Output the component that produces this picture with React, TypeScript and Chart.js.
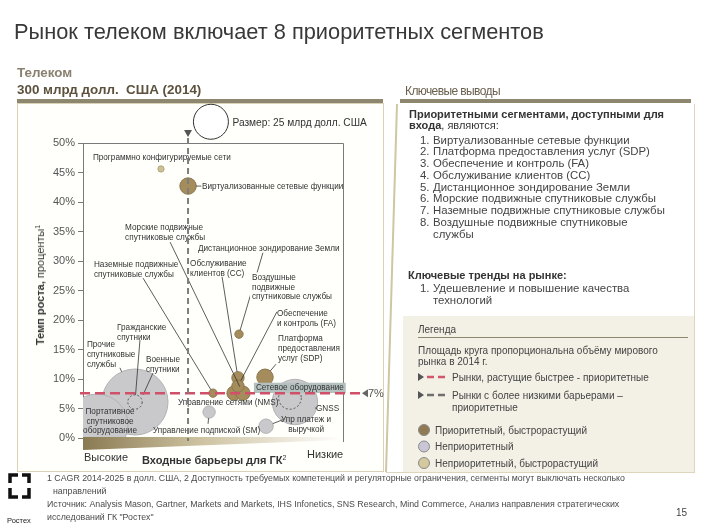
import React, { useEffect, useRef } from "react";
import { Chart, registerables } from "chart.js";
Chart.register(...registerables);

const FONT = '"Liberation Sans", Arial, sans-serif';

// ---------------- data ----------------
const segmentNames = [
  "Размер: 25 млрд долл. США",
  "Программно конфигурируемые сети",
  "Виртуализованные сетевые функции",
  "Дистанционное зондирование Земли",
  "Обслуживание клиентов (CC)",
  "Обеспечение и контроль (FA)",
  "Воздушные подвижные спутниковые службы",
  "Морские подвижные спутниковые службы",
  "Наземные подвижные спутниковые службы",
  "Платформа предоставления услуг (SDP)",
  "Портативное спутниковое оборудование",
  "Прочие спутниковые службы",
  "GNSS",
  "Управление подпиской (SM)",
  "Упр платеж и выручкой",
  "Гражданские спутники",
  "Управление сетями (NMS)",
];
// 0 = high entry barriers, 100 = low entry barriers
const entryBarrier = [49.2, 30, 40.4, 60, 59.6, 59.6, 58.1, 61.5, 50, 70, 5.4, 20, 81.5, 48.5, 70.4, 20, 79.6];
// CAGR 2014-2025, %
const growthRate = [53.6, 45.6, 42.7, 17.6, 10.2, 8.8, 7.6, 7.6, 7.6, 10.3, 2.2, 6.1, 6.1, 4.4, 2, 6.1, 6.8];
// market size 2014, bn USD
const marketSize = [25, 0.8, 5.5, 1.4, 3.1, 3.1, 4.2, 4.2, 1.4, 5.5, 78, 89, 42, 3.1, 4.2, 4.2, 10.5];
const segmentType = ["scale", "fastNon", "priority", "priority", "priority", "priority", "priority", "priority", "priority", "priority", "non", "non", "non", "non", "non", "sub", "sub"];
const yTickValues = [0, 5, 10, 15, 20, 25, 30, 35, 40, 45, 50];
const growthThreshold = 7.6;
const growthThresholdLabel = "7%";
const barrierThreshold = 40.4;

// ---------------- texts ----------------
const title = "Рынок телеком включает 8 приоритетных сегментов";
const keyFindings = [
  "Виртуализованные сетевые функции",
  "Платформа предоставления услуг (SDP)",
  "Обеспечение и контроль (FA)",
  "Обслуживание клиентов (CC)",
  "Дистанционное зондирование Земли",
  "Морские подвижные спутниковые службы",
  "Наземные подвижные спутниковые службы",
  "Воздушные подвижные спутниковые",
];
const legendItems = ["Приоритетный, быстрорастущий", "Неприоритетный", "Неприоритетный, быстрорастущий"];
const legendColors = ["#8f7a52", "#cbc6d6", "#d3c99c"];
const footnotes = [
  "1 CAGR 2014-2025 в долл. США, 2 Доступность требуемых компетенций и регуляторные ограничения, сегменты могут выключать несколько",
  "направлений",
  "Источник: Analysis Mason, Gartner, Markets and Markets, IHS Infonetics, SNS Research, Mind Commerce, Анализ направления стратегических",
  "исследований ГК \"Ростех\"",
];

// annotation labels (positions in data units: barrier, growth)
const notes: { lines: string[]; x: number; y: number; center?: boolean; bg?: string }[] = [
  { lines: ["Программно конфигурируемые сети"], x: 3.8, y: 47.1 },
  { lines: ["Виртуализованные сетевые функции"], x: 45.8, y: 42.2 },
  { lines: ["Морские подвижные", "спутниковые службы"], x: 16.2, y: 35.3 },
  { lines: ["Дистанционное зондирование Земли"], x: 44.2, y: 31.7 },
  { lines: ["Наземные подвижные", "спутниковые службы"], x: 4.2, y: 29.0 },
  { lines: ["Обслуживание", "клиентов (CC)"], x: 41.2, y: 29.2 },
  { lines: ["Воздушные", "подвижные", "спутниковые службы"], x: 65, y: 26.8, bg: "#fffffc" },
  { lines: ["Обеспечение", "и контроль (FA)"], x: 74.6, y: 20.7 },
  { lines: ["Платформа", "предоставления", "услуг (SDP)"], x: 75, y: 16.4 },
  { lines: ["Гражданские", "спутники"], x: 13.1, y: 18.3 },
  { lines: ["Прочие", "спутниковые", "службы"], x: 1.5, y: 15.4 },
  { lines: ["Военные", "спутники"], x: 24.2, y: 12.9 },
  { lines: ["Портативное", "спутниковое", "оборудование"], x: 10.4, y: 4.1, center: true },
  { lines: ["Сетевое оборудование"], x: 66.5, y: 8.1, bg: "#b5c1bf" },
  { lines: ["Управление сетями (NMS)"], x: 36.5, y: 5.6 },
  { lines: ["GNSS"], x: 89.6, y: 4.6 },
  { lines: ["Управление подпиской (SM)"], x: 26.9, y: 0.8 },
  { lines: ["Упр платеж и", "выручкой"], x: 85.8, y: 2.7, center: true },
];
// leader lines: from (data units) to segment index or a data point
const leaders: { from: [number, number]; to: number | [number, number] }[] = [
  { from: [45.5, 42.7], to: 2 },
  { from: [33.5, 33.2], to: 7 },
  { from: [23.1, 27.1], to: 8 },
  { from: [53.5, 27.3], to: 4 },
  { from: [69.2, 31.4], to: 3 },
  { from: [74.6, 21.4], to: 5 },
  { from: [74.2, 12.5], to: 9 },
  { from: [14.2, 11.9], to: 11 },
  { from: [21.9, 16.6], to: 15 },
  { from: [26.9, 11.0], to: [23.1, 7.3] },
  { from: [89.2, 5.1], to: 12 },
  { from: [48.1, 2.4], to: 13 },
  { from: [76.9, 3.1], to: 14 },
];

const radiusOf = (size: number) => 17.5 * Math.sqrt(size / 25);

const typeStyle: Record<string, { bg: string; border: string; order: number; clip: any }> = {
  non: { bg: "#c9c9cb", border: "#b3b3b7", order: 5, clip: 0 },
  fastNon: { bg: "#cdc196", border: "#b2a67a", order: 4, clip: false },
  priority: { bg: "#a48c5d", border: "#8c7649", order: 3, clip: false },
  scale: { bg: "#ffffff", border: "#333333", order: 2, clip: false },
  sub: { bg: "rgba(0,0,0,0)", border: "rgba(0,0,0,0)", order: 1, clip: 0 },
};
const typeOrder = ["non", "fastNon", "priority", "scale", "sub"];

function buildDatasets() {
  const lookup: Record<number, [number, number]> = {};
  const datasets = typeOrder.map((t, di) => {
    const idx = segmentType.map((s, i) => (s === t ? i : -1)).filter((i) => i >= 0);
    idx.sort((a, b) => marketSize[b] - marketSize[a]);
    idx.forEach((seg, k) => (lookup[seg] = [di, k]));
    const st = typeStyle[t];
    return {
      label: t,
      data: idx.map((i) => ({ x: entryBarrier[i], y: growthRate[i], r: radiusOf(marketSize[i]) })),
      backgroundColor: st.bg,
      borderColor: st.border,
      borderWidth: 1,
      order: st.order,
      clip: st.clip,
    };
  });
  return { datasets, lookup };
}

function text(c: CanvasRenderingContext2D, s: string, x: number, y: number, size: number, opts: any = {}) {
  c.font = `${opts.bold ? "bold " : ""}${size}px ${FONT}`;
  c.fillStyle = opts.color || "#333";
  c.textAlign = opts.align || "left";
  c.textBaseline = "alphabetic";
  c.fillText(s, x, y);
}

export default function App() {
  const ref = useRef<HTMLCanvasElement>(null);
  useEffect(() => {
    document.body.style.margin = "0";
    const { datasets, lookup } = buildDatasets();
    const el = (chart: any, seg: number) => {
      const [di, k] = lookup[seg];
      return chart.getDatasetMeta(di).data[k];
    };
    const deco = {
      id: "deco",
      beforeDraw(chart: any) {
        const c: CanvasRenderingContext2D = chart.ctx;
        c.save();
        c.fillStyle = "#ffffff";
        c.fillRect(0, 0, 706, 529);
        // left panel
        c.fillStyle = "#fffffc";
        c.fillRect(17, 103, 366, 368);
        c.strokeStyle = "#d9d2b6";
        c.lineWidth = 1;
        c.strokeRect(17.5, 103.5, 366, 368);
        // header bars
        c.fillStyle = "#8e8770";
        c.fillRect(17, 99, 366, 4);
        c.fillRect(400, 99, 291, 4);
        // right panel
        c.fillStyle = "#f3f0e6";
        c.fillRect(403, 316, 291, 156);
        c.strokeStyle = "#cfc6a2";
        c.lineWidth = 2;
        c.beginPath();
        c.moveTo(397, 104);
        c.lineTo(386, 472);
        c.stroke();
        c.strokeStyle = "#ddd6bd";
        c.lineWidth = 1;
        c.beginPath();
        c.moveTo(694.5, 104);
        c.lineTo(694.5, 472);
        c.moveTo(386, 472.5);
        c.lineTo(695, 472.5);
        c.stroke();
        // legend underline
        c.strokeStyle = "#8e8770";
        c.beginPath();
        c.moveTo(418, 337.5);
        c.lineTo(688, 337.5);
        c.stroke();
        // legend line symbols
        const legLine = (y: number, col: string) => {
          c.fillStyle = "#555";
          c.beginPath();
          c.moveTo(418, y - 4);
          c.lineTo(424, y);
          c.lineTo(418, y + 4);
          c.closePath();
          c.fill();
          c.strokeStyle = col;
          c.lineWidth = 2.5;
          c.setLineDash([7, 4]);
          c.beginPath();
          c.moveTo(427, y);
          c.lineTo(448, y);
          c.stroke();
          c.setLineDash([]);
        };
        legLine(377, "#d4566c");
        legLine(395, "#6f6f6f");
        legendColors.forEach((col, i) => {
          c.fillStyle = col;
          c.strokeStyle = "#8a8a8a";
          c.lineWidth = 1;
          c.beginPath();
          c.arc(424, 430 + i * 16.5, 5.5, 0, Math.PI * 2);
          c.fill();
          c.stroke();
        });
        // logo
        c.strokeStyle = "#111";
        c.lineWidth = 3.5;
        c.lineCap = "butt";
        c.lineJoin = "miter";
        const poly = (pts: number[][]) => {
          c.beginPath();
          c.moveTo(pts[0][0], pts[0][1]);
          pts.slice(1).forEach((p) => c.lineTo(p[0], p[1]));
          c.stroke();
        };
        poly([[10, 483], [10, 475], [18, 475]]);
        poly([[22, 475], [29, 475], [29, 483]]);
        poly([[10, 488], [10, 497], [18, 497]]);
        poly([[29, 488], [29, 497], [22, 497]]);
        c.restore();
      },
      afterDatasetsDraw(chart: any) {
        const c: CanvasRenderingContext2D = chart.ctx;
        const xs = chart.scales.x, ys = chart.scales.y;
        const area = chart.chartArea;
        const X = (v: number) => xs.getPixelForValue(v);
        const Y = (v: number) => ys.getPixelForValue(v);
        c.save();
        // size-scale bubble (sits above the plot area, drawn from its element)
        const sizeEl = el(chart, 0);
        c.fillStyle = "#ffffff";
        c.strokeStyle = "#333";
        c.lineWidth = 1;
        c.beginPath();
        c.arc(sizeEl.x, sizeEl.y, sizeEl.options.radius, 0, Math.PI * 2);
        c.fill();
        c.stroke();
        // dashed outline bubbles
        segmentType.forEach((t, i) => {
          if (t !== "sub") return;
          const e = el(chart, i);
          c.strokeStyle = "#555";
          c.lineWidth = 1;
          c.setLineDash([2, 2]);
          c.beginPath();
          c.arc(e.x, e.y, e.options.radius, 0, Math.PI * 2);
          c.stroke();
        });
        c.setLineDash([]);
        // plot frame
        c.strokeStyle = "#7a7a7a";
        c.lineWidth = 1;
        c.beginPath();
        c.moveTo(area.left, area.top + 0.5);
        c.lineTo(area.right + 0.5, area.top + 0.5);
        c.lineTo(area.right + 0.5, area.bottom + 4);
        c.stroke();
        // gradient wedge (barrier axis)
        const g = c.createLinearGradient(area.left, 0, area.right, 0);
        g.addColorStop(0, "#8a7a52");
        g.addColorStop(0.45, "#cdc2a0");
        g.addColorStop(1, "#ffffff");
        c.fillStyle = g;
        c.beginPath();
        c.moveTo(area.left, area.bottom - 1);
        c.lineTo(area.right - 2, area.bottom - 1);
        c.lineTo(area.right - 2, area.bottom + 2);
        c.lineTo(area.left, area.bottom + 12);
        c.closePath();
        c.fill();
        // leader lines
        c.strokeStyle = "#333";
        c.lineWidth = 0.8;
        leaders.forEach((l) => {
          const fx = X(l.from[0]), fy = Y(l.from[1]);
          let tx: number, ty: number;
          if (typeof l.to === "number") {
            const e = el(chart, l.to);
            const dx = e.x - fx, dy = e.y - fy;
            const d = Math.hypot(dx, dy) || 1;
            tx = e.x - (dx / d) * e.options.radius;
            ty = e.y - (dy / d) * e.options.radius;
          } else {
            tx = X(l.to[0]);
            ty = Y(l.to[1]);
          }
          c.beginPath();
          c.moveTo(fx, fy);
          c.lineTo(tx, ty);
          c.stroke();
        });
        // labels
        const fs = 8.2;
        notes.forEach((n) => {
          const x0 = X(n.x), y0 = Y(n.y);
          c.font = `${fs}px ${FONT}`;
          if (n.bg) {
            const w = Math.max(...n.lines.map((s) => c.measureText(s).width));
            c.fillStyle = n.bg;
            c.fillRect(n.center ? x0 - w / 2 - 2 : x0 - 2, y0 - 7.5, w + 4, n.lines.length * 9.8 + 0.5);
          }
          n.lines.forEach((s, i) => text(c, s, x0, y0 + i * 9.8, fs, { align: n.center ? "center" : "left" }));
        });
        // size legend label
        text(c, segmentNames[0], sizeEl.x + sizeEl.options.radius + 4, sizeEl.y + 4, 10.2);
        // growth threshold (red dashed)
        const ty = Y(growthThreshold);
        c.strokeStyle = "#d05069";
        c.lineWidth = 2.5;
        c.setLineDash([10, 5]);
        c.beginPath();
        c.moveTo(area.left - 3, ty);
        c.lineTo(area.right + 18, ty);
        c.stroke();
        c.setLineDash([]);
        c.fillStyle = "#666";
        c.beginPath();
        c.moveTo(area.right + 19, ty);
        c.lineTo(area.right + 25, ty - 4);
        c.lineTo(area.right + 25, ty + 4);
        c.closePath();
        c.fill();
        text(c, growthThresholdLabel, area.right + 25, ty + 4, 11, { color: "#555" });
        // barrier threshold (gray dashed vertical)
        const bx = X(barrierThreshold);
        c.strokeStyle = "#7d7d7d";
        c.lineWidth = 2;
        c.setLineDash([6, 4]);
        c.beginPath();
        c.moveTo(bx, 138);
        c.lineTo(bx, area.bottom + 3);
        c.stroke();
        c.setLineDash([]);
        c.fillStyle = "#555";
        c.beginPath();
        c.moveTo(bx - 4, 130);
        c.lineTo(bx + 4, 130);
        c.lineTo(bx, 137);
        c.closePath();
        c.fill();
        c.restore();
      },
    };
    const chart = new Chart(ref.current!, {
      type: "bubble",
      data: { datasets: datasets as any },
      options: {
        responsive: false,
        animation: false,
        devicePixelRatio: 1,
        events: [],
        layout: { padding: { left: 43, top: 143, right: 363, bottom: 91 } },
        plugins: { legend: { display: false }, tooltip: { enabled: false } },
        scales: {
          x: { type: "linear", min: 0, max: 100, display: false },
          y: {
            type: "linear",
            min: 0,
            max: 50,
            afterFit: (s: any) => {
              s.width = 40;
            },
            afterBuildTicks: (s: any) => {
              s.ticks = yTickValues.map((v) => ({ value: v }));
            },
            ticks: {
              callback: (v: any) => v + "%",
              font: { family: FONT, size: 11 },
              color: "#555",
              padding: 3,
            },
            grid: { drawOnChartArea: false, tickLength: 5, color: "#7a7a7a" },
            border: { color: "#7a7a7a" },
          },
        },
      },
      plugins: [deco],
    } as any);
    return () => chart.destroy();
  }, []);

  const T = (p: { x: number; y: number; size: number; bold?: boolean; color?: string; children: any; ls?: number }) => {
    const L = Math.round(p.size * 1.2);
    const top = p.y - (L - 1.117 * p.size) / 2 - 0.905 * p.size;
    return (
      <div
        style={{
          position: "absolute",
          left: p.x,
          top,
          fontSize: p.size,
          lineHeight: L + "px",
          fontFamily: FONT,
          fontWeight: p.bold ? 700 : 400,
          color: p.color || "#3a3a3a",
          whiteSpace: "nowrap",
          letterSpacing: p.ls ? p.ls + "px" : undefined,
        }}
      >
        {p.children}
      </div>
    );
  };

  const fs = 11.4;
  return (
    <div style={{ position: "relative", width: 706, height: 529, overflow: "hidden", background: "#fff" }}>
      <canvas ref={ref} width={706} height={529} style={{ position: "absolute", left: 0, top: 0, width: 706, height: 529 }} />
      <T x={14} y={40} size={21.8} color="#383838">{title}</T>
      <T x={17} y={78} size={13.4} bold color="#8a8070">Телеком</T>
      <T x={17} y={95} size={13.4} bold color="#5c513d">300 млрд долл.&nbsp; США (2014)</T>
      <T x={405} y={95} size={12} color="#6a604e" ls={-0.6}>Ключевые выводы</T>

      <T x={409} y={118} size={11} color="#333"><b>Приоритетными сегментами, доступными для</b></T>
      <T x={409} y={129} size={11} color="#333"><b>входа</b>, являются:</T>
      {keyFindings.map((s, i) => (
        <React.Fragment key={i}>
          <T x={420} y={143.5 + i * 11.75} size={fs} color="#444">{i + 1 + "."}</T>
          <T x={433} y={143.5 + i * 11.75} size={fs} color="#444">{s}</T>
        </React.Fragment>
      ))}
      <T x={433} y={143.5 + 8 * 11.75} size={fs} color="#444">службы</T>

      <T x={408} y={279} size={11} color="#333"><b>Ключевые тренды на рынке:</b></T>
      <T x={420} y={292} size={fs} color="#444">1.</T>
      <T x={433} y={292} size={fs} color="#444">Удешевление и повышение качества</T>
      <T x={433} y={304} size={fs} color="#444">технологий</T>

      <T x={418} y={333} size={10} color="#444">Легенда</T>
      <T x={418} y={354} size={10} color="#444">Площадь круга пропорциональна объёму мирового</T>
      <T x={418} y={365} size={10} color="#444">рынка в 2014 г.</T>
      <T x={452} y={381} size={10} color="#444">Рынки, растущие быстрее - приоритетные</T>
      <T x={452} y={399} size={10} color="#444">Рынки с более низкими барьерами –</T>
      <T x={452} y={411} size={10} color="#444">приоритетные</T>
      {legendItems.map((s, i) => (
        <T key={i} x={435} y={434 + i * 16.5} size={10} color="#444">{s}</T>
      ))}

      <div
        style={{
          position: "absolute",
          left: 39,
          top: 285,
          transform: "translate(-50%, -50%) rotate(-90deg)",
          fontFamily: FONT,
          fontSize: 11,
          lineHeight: "13px",
          color: "#333",
          whiteSpace: "nowrap",
        }}
      >
        <b>Темп роста,</b> проценты<span style={{ fontSize: 7, verticalAlign: "4px" }}>1</span>
      </div>
      <T x={84} y={461} size={11} color="#333">Высокие</T>
      <T x={142} y={461} size={11} color="#333"><b>Входные барьеры для ГК</b><span style={{ fontSize: 7, verticalAlign: "4px" }}>2</span></T>
      <T x={307} y={458} size={11} color="#333">Низкие</T>

      <T x={47} y={482} size={8.8} color="#4a4a4a">{footnotes[0]}</T>
      <T x={53} y={495} size={8.8} color="#4a4a4a">{footnotes[1]}</T>
      <T x={47} y={508} size={8.8} color="#4a4a4a">{footnotes[2]}</T>
      <T x={47} y={521} size={8.8} color="#4a4a4a">{footnotes[3]}</T>
      <T x={7} y={523} size={7.5} color="#222">Ростех</T>
      <T x={676} y={516} size={10} color="#444">15</T>
    </div>
  );
}
